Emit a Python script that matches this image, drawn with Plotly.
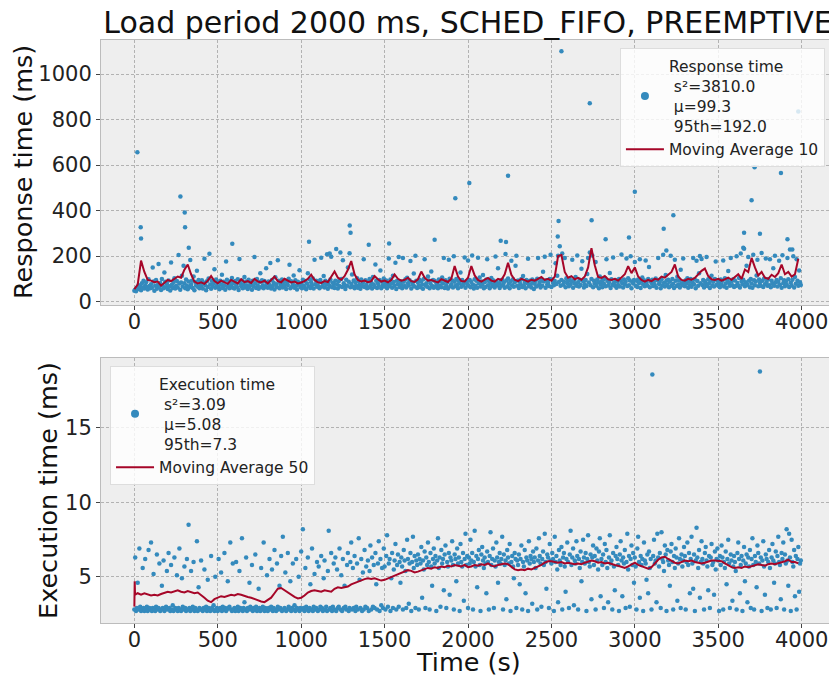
import plotly.graph_objects as go

# ---------------- data ----------------
# Response time samples (ms), one every 5 s
resp_ms = [
    48,52,45,60,55,72,58,66,50,80,62,91,57,70,85,64,53,98,68,59,
    76,61,150,88,47,69,95,56,73,165,64,82,51,99,71,58,128,87,63,78,
    55,93,67,49,172,74,60,86,102,57,70,90,62,205,79,52,84,113,66,158,
    81,58,97,69,54,88,63,183,75,92,60,110,50,86,71,135,65,95,59,77,
    68,94,57,83,188,72,50,89,64,101,210,75,56,92,67,80,142,61,97,70,
    85,63,54,91,74,118,60,87,69,52,176,96,66,78,58,89,72,104,61,82,
    57,90,73,64,98,51,187,80,67,93,59,76,108,62,88,71,55,96,65,83,
    74,52,92,67,196,81,60,99,70,56,86,125,63,94,72,58,90,66,147,79,
    61,88,73,170,57,95,68,83,53,107,76,64,182,91,59,80,71,97,62,86,
    69,93,55,84,73,100,162,58,89,66,77,115,61,94,70,53,87,75,138,64,
    82,58,96,71,63,90,54,79,124,67,98,60,85,73,101,57,184,76,92,65,
    71,88,59,95,193,66,80,112,62,91,74,208,56,86,69,97,197,63,83,77,
    60,92,231,75,57,89,68,216,99,64,182,81,72,55,96,70,150,87,212,63,
    78,119,66,93,58,85,71,102,61,90,74,56,97,68,83,186,64,94,73,59,
    88,62,99,70,84,57,108,75,65,163,91,60,80,69,95,137,58,87,72,101,
    66,83,93,58,75,189,68,97,79,61,114,86,70,171,55,92,76,196,64,89,
    73,59,192,87,68,98,62,105,80,71,94,178,57,85,74,123,66,201,91,60,
    84,70,96,63,89,75,56,99,186,72,81,65,110,93,59,78,132,68,95,61,
    91,66,82,74,58,97,69,88,63,106,79,191,60,94,71,85,57,184,100,67,
    76,93,62,199,87,68,99,73,58,90,81,128,65,95,72,84,194,61,89,77,
    181,70,95,63,86,202,74,57,98,69,92,61,193,80,106,66,88,75,117,59,
    85,64,97,186,72,90,58,83,104,68,94,76,62,198,87,71,146,79,60,91,
    69,96,74,84,61,209,93,66,101,78,59,89,179,72,98,65,85,157,201,70,
    93,60,87,76,99,64,112,71,86,58,95,80,188,67,91,74,62,97,83,55,
    78,92,66,100,191,73,85,62,96,70,131,88,197,61,94,75,83,68,99,206,
    64,97,82,72,90,168,77,113,201,86,243,69,95,211,74,88,192,63,102,80,
    91,67,99,75,87,184,61,94,79,108,70,203,85,66,96,73,144,177,89,62,
    76,95,68,121,191,84,216,72,99,202,63,92,80,174,70,97,86,59,110,75,
    89,63,96,78,104,67,186,92,71,85,126,60,98,74,194,83,69,95,61,88,
    73,99,66,91,207,80,62,97,76,88,189,68,103,72,93,199,59,86,79,95,
    174,70,92,64,97,81,186,60,89,106,75,94,67,181,84,71,99,152,63,90,
    82,96,68,88,73,101,61,94,192,77,86,59,98,71,206,83,66,117,92,74,
    96,63,87,201,70,99,78,60,184,91,68,109,75,93,62,140,81,72,189,85,
    67,94,79,103,61,88,72,99,65,84,192,76,97,58,179,90,69,124,200,80,
    187,73,95,62,89,77,196,68,98,81,60,93,114,71,87,66,99,176,74,92,
    70,86,63,97,75,91,181,66,102,79,61,94,134,83,69,191,88,72,98,64,
    93,68,199,82,71,104,62,211,89,76,96,232,67,85,158,74,196,91,63,99,
    79,61,206,94,72,88,115,184,67,97,83,70,214,92,64,101,76,189,86,69,
    98,72,186,63,91,80,146,69,201,85,95,66,87,179,74,103,61,204,82,94,
    67,89,76,191,98,64,229,83,71,96,199,62,108,78,186,92,70,137,85,73,
]
resp_time_s = [5 * i for i in range(len(resp_ms))]

# Response-time outliers
resp_out_t = [18, 38, 40, 276, 302, 304, 326, 587, 1047, 1171, 1291, 1296, 1405, 1527,
              1800, 1924, 2008, 2196, 2228, 2240, 2538, 2543, 2560, 2730, 2741, 2825,
              2965, 3000, 3173, 3189, 3231, 3650, 3655, 3700, 3718, 3750, 3876, 3915,
              3944, 3980]
resp_out_ms = [656, 327, 277, 462, 392, 327, 237, 254, 263, 211, 334, 303, 250, 255,
               272, 454, 521, 267, 262, 553, 286, 354, 1100, 872, 358, 274,
               282, 483, 320, 225, 379, 237, 302, 445, 590, 298, 565, 274,
               229, 836]

# Moving average 10 of response time (ms), every 20 s
resp_ma = [
    55,75,180,130,95,92,85,88,70,82,95,90,100,110,105,140,163,120,88,80,
    85,78,92,112,90,80,92,85,78,95,88,80,98,85,90,82,100,88,84,92,
    80,95,110,90,85,100,92,84,88,80,84,90,100,118,95,85,82,90,86,110,
    132,105,96,112,140,178,120,95,88,92,85,90,112,98,88,92,85,95,119,100,
    92,96,105,90,86,98,132,105,92,95,88,84,98,92,86,100,156,110,90,88,
    105,156,115,95,88,96,104,92,88,100,95,120,171,118,96,90,100,94,88,96,
    92,100,108,95,100,92,110,200,205,130,105,112,98,104,96,110,150,235,160,108,
    104,112,98,95,100,92,105,120,156,125,150,110,95,88,95,90,100,96,110,105,
    118,130,163,110,95,92,100,96,104,120,135,145,112,98,95,100,92,98,105,96,
    110,120,100,141,130,192,150,115,130,105,100,118,108,125,163,120,130,110,120,188,
]
resp_ma_t = [20 * i for i in range(len(resp_ma))]

# Execution time samples (ms), one every 5 s
exec_ms = [
    2.8,6.3,2.7,2.9,4.6,2.8,6.9,3.0,2.7,2.8,5.6,2.9,2.7,6.2,2.8,3.0,2.7,6.8,2.9,2.8,
    7.3,2.7,2.9,5.2,2.8,2.7,3.0,6.5,2.8,2.9,5.9,2.7,2.8,4.4,2.9,6.1,2.7,2.8,3.0,5.4,
    2.8,6.6,2.9,2.7,5.8,2.8,3.1,2.7,6.3,2.9,2.8,5.1,2.7,2.9,6.9,2.8,2.7,4.9,3.0,2.8,
    5.7,2.9,2.7,6.2,2.8,8.5,2.9,2.7,5.4,2.8,3.0,6.0,2.7,2.9,2.8,7.4,2.7,4.3,2.9,2.8,
    6.1,2.8,2.7,2.9,5.5,2.8,3.0,2.7,4.8,2.9,2.8,2.7,6.4,2.9,2.8,3.1,2.7,5.0,2.8,2.9,
    2.7,6.2,2.8,2.9,5.3,2.7,3.0,2.8,6.6,2.9,2.7,2.8,4.7,2.9,3.0,7.3,2.8,2.7,5.9,2.8,
    2.9,2.7,6.0,2.8,3.0,2.7,5.4,2.9,2.8,7.6,2.7,2.9,3.3,2.8,6.3,2.7,2.9,2.8,4.6,3.0,
    2.8,5.8,2.7,2.9,2.8,6.5,3.0,2.7,2.8,4.2,2.9,2.7,5.6,2.8,3.0,7.3,2.7,2.9,2.8,5.1,
    2.7,2.9,6.2,2.8,3.0,5.5,2.7,2.9,6.8,2.8,2.7,5.9,3.0,2.8,4.4,2.9,6.4,2.7,7.7,2.8,
    2.9,5.3,2.7,2.8,6.6,3.0,2.8,4.7,2.7,2.9,5.9,2.8,3.1,2.7,6.2,2.9,2.8,5.0,2.7,2.9,
    6.7,2.8,8.2,2.9,2.7,5.6,3.0,2.8,6.3,2.7,2.9,4.5,2.8,6.9,2.7,3.0,5.2,2.8,2.9,6.0,
    2.7,5.7,2.8,3.0,6.4,2.9,2.7,4.9,6.1,2.8,3.0,2.7,5.4,8.1,2.8,2.9,6.6,2.7,3.0,5.9,
    2.8,6.3,2.7,5.5,2.9,3.0,6.9,2.8,5.1,2.7,6.2,2.9,4.4,3.0,2.8,5.8,6.6,2.7,2.9,6.0,
    7.3,2.8,5.6,2.9,6.4,2.7,3.0,5.9,2.8,7.6,4.8,2.9,6.2,2.7,5.3,2.8,6.8,3.0,5.7,2.9,
    6.1,2.7,5.4,7.1,2.8,6.3,3.0,5.8,2.9,6.6,4.5,2.8,5.9,7.4,2.7,6.2,3.1,5.6,2.9,6.9,
    5.7,2.8,6.4,7.8,3.0,5.9,6.2,2.7,4.9,6.6,2.9,5.5,6.1,7.2,2.8,5.8,6.5,3.0,6.0,4.6,
    6.3,5.7,2.8,6.8,6.1,5.4,2.9,7.5,6.2,3.2,5.9,6.6,2.7,6.0,7.7,5.6,6.4,2.9,6.1,5.8,
    6.5,2.8,6.2,5.9,7.0,3.6,6.1,5.5,6.7,2.9,6.3,5.8,7.3,6.0,2.8,6.6,5.7,4.4,6.2,6.9,
    5.9,6.4,2.7,6.1,7.6,5.6,6.3,3.0,6.8,5.9,6.2,4.1,6.5,7.1,2.9,6.0,5.7,6.6,3.8,6.3,
    6.1,7.4,5.8,2.8,6.5,6.2,4.7,6.9,5.9,6.3,2.7,7.2,6.0,5.7,6.6,3.4,6.2,7.9,5.8,6.4,
    2.9,6.3,5.9,7.5,6.1,6.6,2.8,6.0,8.1,5.7,6.4,4.3,6.2,6.8,5.8,2.7,6.5,7.0,6.1,5.6,
    6.3,5.9,3.9,6.7,6.0,2.8,6.4,8.0,5.8,6.2,6.9,2.9,6.1,5.7,7.3,6.3,4.6,6.0,6.6,5.9,
    6.2,7.7,2.8,6.5,5.8,6.1,3.5,6.8,6.3,5.9,7.2,2.7,6.0,6.4,5.7,4.9,6.6,6.2,2.9,6.1,
    5.8,6.5,4.5,6.2,7.1,2.8,6.0,5.7,6.8,3.9,6.3,6.1,2.7,7.4,5.9,6.4,6.2,3.2,6.7,6.0,
    6.3,5.6,6.9,2.8,6.1,7.6,6.4,5.9,3.0,6.2,6.7,5.8,7.9,6.0,4.2,6.5,6.3,2.9,7.2,6.1,
    5.9,6.6,6.2,2.7,7.7,6.0,6.4,5.5,3.3,6.8,6.1,5.8,7.0,2.8,6.3,6.6,5.7,4.0,6.2,7.3,
    6.0,2.9,6.5,8.1,5.8,6.3,6.9,3.1,6.1,5.9,7.4,6.4,2.8,6.2,5.6,6.7,4.7,6.0,7.5,6.3,
    5.9,6.6,2.7,6.2,7.8,6.0,5.7,6.5,3.5,6.3,7.1,5.8,6.4,2.8,6.9,6.1,5.5,6.7,7.6,3.7,
    6.2,5.8,6.5,2.9,7.2,6.0,6.8,5.6,3.3,6.3,7.8,5.9,6.1,2.8,6.6,5.7,4.1,6.4,7.0,6.2,
    5.8,2.7,6.5,7.4,6.1,3.7,6.3,5.9,6.8,2.9,6.0,7.9,5.5,6.4,3.0,6.2,7.1,5.8,6.6,4.6,
    6.3,5.7,2.8,6.9,7.7,6.0,3.6,6.4,5.8,6.2,2.7,7.3,6.1,5.9,4.8,6.5,3.9,6.7,5.6,6.2,
    2.8,18.6,6.4,7.5,5.9,6.1,3.3,7.9,6.3,5.7,6.6,2.9,8.0,6.2,6.0,5.4,7.1,6.5,2.7,6.8,
    6.1,5.8,4.4,6.7,7.2,6.0,2.8,6.4,5.6,6.9,6.3,3.4,5.9,7.6,6.2,2.9,6.5,5.7,6.1,7.0,
    6.4,2.8,6.0,7.3,5.8,6.6,3.9,6.2,7.7,5.9,4.2,6.5,2.7,6.1,8.3,6.3,5.6,6.8,3.6,6.0,
    7.4,6.2,5.9,2.8,6.6,7.0,6.1,5.7,4.1,6.4,2.9,6.3,7.2,5.8,6.0,3.8,6.7,5.5,6.2,6.9,
    6.1,2.7,6.4,5.8,7.1,6.3,2.8,6.0,5.6,6.7,4.5,6.2,7.5,5.9,2.9,6.5,6.1,3.4,5.7,6.4,
    6.0,5.4,2.8,6.6,7.3,6.2,3.9,5.8,6.4,2.7,6.1,7.0,4.7,5.9,6.5,3.3,6.3,5.7,6.8,2.9,
    6.2,7.6,5.8,2.8,6.4,6.0,4.3,7.1,6.6,5.9,18.8,6.3,2.7,6.1,7.4,5.7,3.8,6.5,6.2,2.9,
    6.0,6.8,5.6,2.8,6.3,7.2,6.1,4.6,5.9,6.7,2.9,6.4,7.7,6.0,5.8,3.5,6.6,6.2,7.3,2.8,
    6.5,5.9,8.2,6.1,4.4,7.9,6.3,2.7,7.5,6.0,5.7,6.8,3.7,6.4,2.8,6.2,7.0,4.0,5.9,6.1,
]
exec_time_s = [5 * i for i in range(len(exec_ms))]

# Moving average 50 of execution time (ms)
exec_ma = [
    3.0,4.7,3.8,
    3.9,3.8,3.9,3.85,3.75,3.8,3.75,3.85,3.9,4.0,3.95,4.05,4.1,4.0,3.95,4.05,4.0,3.9,3.95,
    3.8,3.6,3.4,3.3,3.5,3.6,3.7,3.65,3.7,3.8,3.75,3.85,3.8,3.7,3.65,3.6,3.5,3.45,3.35,3.3,
    3.45,3.6,3.9,4.2,4.25,4.1,3.9,3.8,3.65,3.55,3.6,3.75,3.95,4.05,4.1,4.05,4.0,4.1,4.05,4.0,
    4.2,4.3,4.25,4.3,4.35,4.5,4.6,4.7,4.8,4.85,4.9,4.85,4.9,4.8,4.75,4.8,4.9,5.0,5.1,5.2,
    5.3,5.35,5.45,5.4,5.3,5.35,5.45,5.5,5.6,5.55,5.65,5.6,5.7,5.65,5.75,5.7,5.8,5.75,5.7,5.8,
    5.65,5.7,5.8,5.75,5.85,5.8,5.9,5.75,5.7,5.8,5.85,5.9,5.85,5.7,5.5,5.45,5.5,5.45,5.55,5.5,
    5.6,5.65,5.8,5.95,6.05,6.05,6.0,5.95,6.0,5.9,5.95,5.9,5.85,5.9,5.85,5.95,6.05,6.1,6.05,5.95,
    6.0,5.9,5.95,5.85,5.8,5.75,5.7,5.6,5.7,5.85,5.95,5.8,5.7,5.6,5.55,5.65,5.9,6.15,6.3,6.35,
    6.2,6.05,5.95,5.9,6.0,6.1,6.05,6.1,6.0,5.95,5.9,5.95,6.05,6.1,6.1,6.1,6.05,5.9,5.75,5.65,
    5.6,5.65,5.6,5.7,5.65,5.7,5.75,5.85,5.8,5.75,5.85,5.9,5.85,5.9,5.95,6.05,6.15,6.0,6.0,5.9,
]
exec_ma_t = [0, 2, 4] + [20 * i for i in range(1, len(exec_ma) - 2)]

# Tick positions
time_ticks = [0, 500, 1000, 1500, 2000, 2500, 3000, 3500, 4000]
resp_ticks = [0, 200, 400, 600, 800, 1000]
exec_ticks = [5, 10, 15]

title_text = "Load period 2000 ms, SCHED_FIFO, PREEMPTIVE"
resp_label = "Response time<br>\u00a0s\u00b2=3810.0<br>\u00a0\u03bc=99.3<br>\u00a095th=192.0"
exec_label = "Execution time<br>\u00a0s\u00b2=3.09<br>\u00a0\u03bc=5.08<br>\u00a095th=7.3"

# ---------------- styling ----------------
BLUE = "#348ABD"
RED = "#A60628"
FONT = "DejaVu Sans"
DOT = 4.5
# the page body keeps an 8 px margin, so the figure is 8 px smaller
W, H = 829, 668

fig = go.Figure()

# top panel
fig.add_trace(go.Scatter(x=resp_time_s, y=resp_ms, mode="markers",
                         marker=dict(color=BLUE, size=DOT, line=dict(width=0)),
                         showlegend=False, xaxis="x", yaxis="y", hoverinfo="skip"))
fig.add_trace(go.Scatter(x=resp_out_t, y=resp_out_ms, mode="markers",
                         marker=dict(color=BLUE, size=DOT, line=dict(width=0)),
                         showlegend=False, xaxis="x", yaxis="y", hoverinfo="skip"))
fig.add_trace(go.Scatter(x=[None], y=[None], mode="markers", name=resp_label,
                         marker=dict(color=BLUE, size=8), legend="legend",
                         xaxis="x", yaxis="y"))
fig.add_trace(go.Scatter(x=resp_ma_t, y=resp_ma, mode="lines", name="Moving Average 10",
                         line=dict(color=RED, width=2), legend="legend",
                         xaxis="x", yaxis="y", hoverinfo="skip"))

# bottom panel
fig.add_trace(go.Scatter(x=exec_time_s, y=exec_ms, mode="markers",
                         marker=dict(color=BLUE, size=DOT, line=dict(width=0)),
                         showlegend=False, xaxis="x2", yaxis="y2", hoverinfo="skip"))
fig.add_trace(go.Scatter(x=[None], y=[None], mode="markers", name=exec_label,
                         marker=dict(color=BLUE, size=8), legend="legend2",
                         xaxis="x2", yaxis="y2"))
fig.add_trace(go.Scatter(x=exec_ma_t, y=exec_ma, mode="lines", name="Moving Average 50",
                         line=dict(color=RED, width=2), legend="legend2",
                         xaxis="x2", yaxis="y2", hoverinfo="skip"))

axis_common = dict(
    showgrid=True, gridcolor="#b2b2b2", gridwidth=1, griddash="3px,2px",
    showline=True, linecolor="#bcbcbc", linewidth=1, mirror=True,
    ticks="outside", ticklen=4, tickcolor="#444", tickwidth=1,
    tickfont=dict(family=FONT, size=21, color="#222"),
    zeroline=False,
)

legend_common = dict(
    bgcolor="rgba(255,255,255,0.8)", bordercolor="#dddddd", borderwidth=1,
    font=dict(family=FONT, size=15.5, color="#222"),
    xanchor="left", yanchor="top", valign="middle", itemwidth=38,
)

fig.update_layout(
    width=W, height=H,
    margin=dict(l=93, r=2, t=32, b=53),
    paper_bgcolor="white", plot_bgcolor="#eeeeee",
    font=dict(family=FONT, color="#222"),
    title=dict(text=title_text, font=dict(family=FONT, size=30, color="#111"),
               x=0.5, xref="paper", y=1 - 14 / H, yref="container",
               xanchor="center", yanchor="middle"),
    xaxis=dict(domain=[0, 1], range=[-200, 4200], tickvals=time_ticks,
               anchor="y", ticklabelstandoff=-6, **axis_common),
    yaxis=dict(domain=[0.5455, 1], range=[-15, 1150], tickvals=resp_ticks,
               anchor="x", **axis_common),
    xaxis2=dict(domain=[0, 1], range=[-200, 4200], tickvals=time_ticks,
                anchor="y2", ticklabelstandoff=-6, **axis_common),
    yaxis2=dict(domain=[0, 0.4545], range=[1.9, 19.7], tickvals=exec_ticks,
                anchor="x2", **axis_common),
    legend=dict(x=0.707, y=0.986, **legend_common),
    legend2=dict(x=0.0123, y=0.4408, **legend_common),
    annotations=[
        dict(text="Response time (ms)", textangle=-90, xref="paper", yref="paper",
             x=(22.5 - 101) / 734, y=0.7727, xanchor="center", yanchor="middle",
             showarrow=False, font=dict(family=FONT, size=25.5, color="#111")),
        dict(text="Execution time (ms)", textangle=-90, xref="paper", yref="paper",
             x=(48.5 - 101) / 734, y=0.2273, xanchor="center", yanchor="middle",
             showarrow=False, font=dict(family=FONT, size=25.5, color="#111")),
        dict(text="Time (s)", xref="paper", yref="paper",
             x=0.5, y=(623 - 662) / 583, xanchor="center", yanchor="middle",
             showarrow=False, font=dict(family=FONT, size=25.5, color="#111")),
    ],
)

fig.write_html("out.html", config={"displayModeBar": False})
